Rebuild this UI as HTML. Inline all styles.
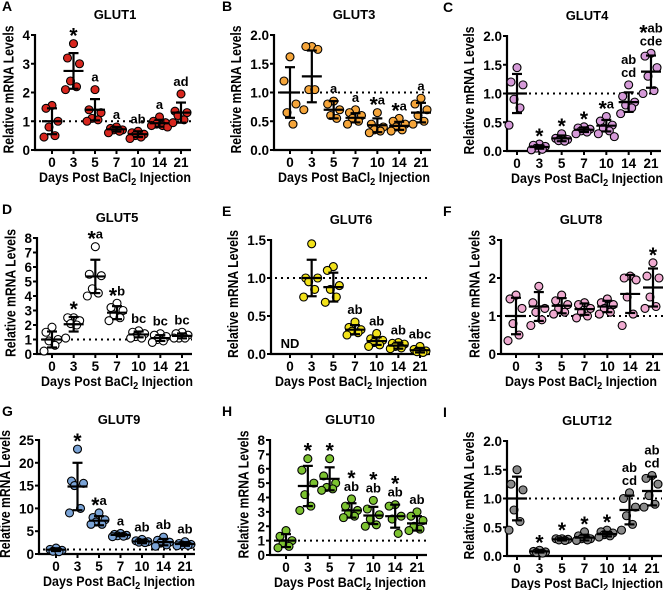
<!DOCTYPE html>
<html><head><meta charset="utf-8">
<style>
html,body{margin:0;padding:0;background:#fff;}
svg{display:block;font-family:"Liberation Sans",Arial,sans-serif;font-weight:bold;}
</style></head>
<body>
<svg id="fig" width="669" height="590" viewBox="0 0 669 590"></svg>
<script>
const days = ["0","3","5","7","10","14","21"];
// Panel data: points per day, means, SDs, annotations
const glut1Points = [[1.55,1.45,1.0,0.8,0.5,0.45],[3.7,3.2,3.0,2.4,2.2,2.1],[2.1,1.4,1.3,1.1,1.05,1.0],[0.8,0.75,0.7,0.7,0.65,0.6],[0.65,0.6,0.55,0.5,0.45,0.4],[1.15,1.0,0.95,0.9,0.85,0.85,0.8],[1.95,1.35,1.3,1.2,1.05,0.95]];
const glut1Mean = [1.0,2.75,1.4,0.72,0.55,0.93,1.3];
const glut1Sd = [0.45,0.62,0.37,0.08,0.1,0.12,0.35];
const glut1Ann = ["","*","a","a","ab","a","ad"];

const glut3Points = [[1.62,1.2,0.8,0.65,0.45],[1.8,1.8,1.75,1.05,1.05,0.7],[0.85,0.8,0.7,0.6,0.55],[0.7,0.65,0.6,0.55,0.5,0.45],[0.65,0.45,0.4,0.35,0.33,0.3],[0.55,0.5,0.45,0.4,0.35,0.33],[0.9,0.8,0.7,0.6,0.5,0.45]];
const glut3Mean = [1.0,1.28,0.7,0.56,0.43,0.42,0.65];
const glut3Sd = [0.44,0.45,0.15,0.08,0.12,0.07,0.17];
const glut3Ann = ["","","a","a","*a","*a","a"];

const glut4Points = [[1.45,1.2,1.15,0.9,0.75,0.45],[0.12,0.1,0.08,0.05,0.03,0.02],[0.3,0.22,0.2,0.18,0.17],[0.42,0.4,0.38,0.35,0.33,0.3],[0.6,0.52,0.45,0.4,0.35,0.3,0.25],[1.15,0.95,0.85,0.8,0.75,0.65],[1.7,1.65,1.45,1.3,1.05,1.0]];
const glut4Mean = [1.0,0.07,0.22,0.37,0.44,0.85,1.38];
const glut4Sd = [0.34,0.03,0.05,0.04,0.1,0.17,0.28];
const glut4Ann = ["","*","*","*","*a","ab|cd","*ab|cde"];

const glut5Points = [[1.85,1.5,1.0,0.9,0.6,0.2],[2.5,2.5,2.3,2.1,2.0,1.1],[7.4,5.5,5.4,4.5,4.2,4.0],[3.5,3.2,3.0,2.7,2.5,2.3],[1.6,1.5,1.4,1.2,1.1,1.1],[1.4,1.3,1.2,1.0,0.9,0.8],[1.5,1.4,1.3,1.1,1.1,1.1]];
const glut5Mean = [1.0,2.05,5.35,2.85,1.35,1.1,1.25];
const glut5Sd = [0.55,0.5,1.15,0.45,0.2,0.2,0.17];
const glut5Ann = ["","*","*a","*b","bc","bc","bc"];

const glut6Points = [[],[1.45,1.0,1.0,0.95,0.85,0.75],[1.15,1.1,0.9,0.85,0.75,0.68],[0.42,0.35,0.32,0.3,0.28,0.25],[0.27,0.2,0.18,0.15,0.12,0.1],[0.15,0.14,0.13,0.1,0.08,0.07],[0.1,0.06,0.04,0.03,0.02]];
const glut6Mean = [null,1.0,0.88,0.32,0.17,0.11,0.05];
const glut6Sd = [null,0.24,0.19,0.06,0.05,0.04,0.03];
const glut6Ann = ["","","","ab","ab","ab","abc"];

const glut8Points = [[1.55,1.45,1.2,0.8,0.5,0.35],[1.78,1.35,1.2,1.1,0.9,0.75],[1.55,1.4,1.3,1.2,1.1,1.05],[1.35,1.3,1.2,1.1,1.0,0.95],[1.45,1.35,1.3,1.2,1.1,1.05],[2.05,2.0,1.95,1.5,1.05,0.75],[2.4,2.05,2.0,1.5,1.25,1.2]];
const glut8Mean = [1.0,1.25,1.27,1.18,1.25,1.58,1.75];
const glut8Sd = [0.48,0.38,0.2,0.15,0.15,0.5,0.5];
const glut8Ann = ["","","","","","","*"];

const glut9Points = [[1.3,1.0,0.8,0.6,0.5],[23,16,15.5,15,10,9],[9,8,7.5,7,6.5,6.5],[4.5,4.3,4.1,4.0,3.9,3.8],[3.2,2.9,2.7,2.6,2.5],[3.7,3.0,2.6,2.4,2.0,1.7],[2.7,2.3,2.1,2.0,1.9,1.8]];
const glut9Mean = [0.95,14.8,7.3,4.2,2.75,2.6,2.2];
const glut9Sd = [0.3,5.2,1.0,0.3,0.4,0.7,0.4];
const glut9Ann = ["","*","*a","a","ab","ab","ab"];

const glut10Points = [[1.7,1.3,1.0,0.8,0.6,0.5],[6.7,5.9,5.0,4.2,3.4,3.1],[6.7,5.5,5.0,4.7,4.6,4.5],[3.9,3.4,3.1,2.9,2.7,2.6],[3.8,3.2,2.8,2.5,2.1,2.0],[3.5,3.4,2.7,2.5,1.5],[3.0,2.7,2.4,2.0,1.8,1.7]];
const glut10Mean = [1.0,4.8,5.3,3.1,2.75,2.7,2.2];
const glut10Sd = [0.45,1.4,0.8,0.5,0.6,0.8,0.5];
const glut10Ann = ["","*","*","*|ab","*|ab","*|ab","ab"];

const glut12Points = [[1.5,1.25,1.15,0.8,0.6,0.45],[0.1,0.08,0.07,0.06,0.05],[0.3,0.3,0.29,0.28,0.27],[0.42,0.35,0.3,0.3,0.28,0.27],[0.45,0.42,0.4,0.37,0.35,0.33],[1.1,1.0,0.85,0.7,0.55,0.45],[1.4,1.35,1.25,1.05,0.9,0.85]];
const glut12Mean = [1.0,0.08,0.29,0.32,0.38,0.8,1.13];
const glut12Sd = [0.38,0.02,0.02,0.05,0.04,0.25,0.25];
const glut12Ann = ["","*","*","*","*","ab|cd","ab|cd"];

const yTicksA = ["0","1","2","3","4"];
const yTicksHalf = ["0.0","0.5","1.0","1.5","2.0"];
const yTicks15 = ["0.0","0.5","1.0","1.5"];
const yTicks8 = ["0","1","2","3","4","5","6","7","8"];
const yTicks3 = ["0","1","2","3"];
const yTicks25 = ["0","5","10","15","20","25"];

const panels = [
 {id:"a",letter:"A",title:"GLUT1",pts:glut1Points,mean:glut1Mean,sd:glut1Sd,ann:glut1Ann,ticks:yTicksA,color:"#d7261e",ax:35,top:35,zero:150,c0:52,c6:181,lx:2},
 {id:"b",letter:"B",title:"GLUT3",pts:glut3Points,mean:glut3Mean,sd:glut3Sd,ann:glut3Ann,ticks:yTicksHalf,color:"#f5a53a",ax:274,top:35,zero:150,c0:290,c6:421,lx:222},
 {id:"c",letter:"C",title:"GLUT4",pts:glut4Points,mean:glut4Mean,sd:glut4Sd,ann:glut4Ann,ticks:yTicksHalf,color:"#d59ad8",ax:507,top:36,zero:151,c0:517,c6:651,lx:443},
 {id:"d",letter:"D",title:"GLUT5",pts:glut5Points,mean:glut5Mean,sd:glut5Sd,ann:glut5Ann,ticks:yTicks8,color:"#ffffff",ax:37,top:238,zero:354,c0:52,c6:182,lx:2},
 {id:"e",letter:"E",title:"GLUT6",pts:glut6Points,mean:glut6Mean,sd:glut6Sd,ann:glut6Ann,ticks:yTicks15,color:"#f2e21a",ax:271,top:240,zero:354,c0:290,c6:420,lx:222,nd:true},
 {id:"f",letter:"F",title:"GLUT8",pts:glut8Points,mean:glut8Mean,sd:glut8Sd,ann:glut8Ann,ticks:yTicks3,color:"#efaad0",ax:501,top:240,zero:354,c0:516,c6:653,lx:443},
 {id:"g",letter:"G",title:"GLUT9",pts:glut9Points,mean:glut9Mean,sd:glut9Sd,ann:glut9Ann,ticks:yTicks25,color:"#7aa3d6",ax:39,top:440,zero:554,c0:56,c6:185,lx:2},
 {id:"h",letter:"H",title:"GLUT10",pts:glut10Points,mean:glut10Mean,sd:glut10Sd,ann:glut10Ann,ticks:yTicks8,color:"#7cc230",ax:270,top:440,zero:555,c0:286,c6:417,lx:222},
 {id:"i",letter:"I",title:"GLUT12",pts:glut12Points,mean:glut12Mean,sd:glut12Sd,ann:glut12Ann,ticks:yTicksHalf,color:"#8a8a8a",ax:507,top:441,zero:556,c0:517,c6:652,lx:443}
];

const NS = "http://www.w3.org/2000/svg";
const svg = document.getElementById("fig");
const jitter = [0,-6,6,-3,3,-8,8];
function mk(tag, attrs, parent, text){
  const e = document.createElementNS(NS, tag);
  for (const k in attrs) e.setAttribute(k, attrs[k]);
  if (text !== undefined) e.textContent = text;
  parent.appendChild(e);
  return e;
}
panels.forEach(p => {
  const g = mk("g", {}, svg);
  
  
  const ymax = parseFloat(p.ticks[p.ticks.length-1]);
  const y = v => p.zero - (v / ymax) * (p.zero - p.top);
  const x = i => p.c0 + i * (p.c6 - p.c0) / 6;
  const xEnd = p.c6 + 10;
  const letter = mk("text", {x:p.lx, y:p.top-24, "font-size":14}, g, p.letter);
  
  
  const title = mk("text", {x:p.ax+80, y:p.top-16, "font-size":13, "text-anchor":"middle"}, g, p.title);
  
  
  const yaxis = mk("line", {x1:p.ax, y1:p.top-1, x2:p.ax, y2:p.zero+1, stroke:"#000","stroke-width":2.2}, g);
  
  
  const xaxis = mk("line", {x1:p.ax-1, y1:p.zero, x2:xEnd, y2:p.zero, stroke:"#000","stroke-width":2.2}, g);
  
  
  let maxW = 0;
  p.ticks.forEach(t => {
    const v = parseFloat(t);
    mk("line", {x1:p.ax-4, y1:y(v), x2:p.ax, y2:y(v), stroke:"#000","stroke-width":2}, g);
    const tl = mk("text", {x:p.ax-5, y:y(v)+5, "font-size":13.5, "text-anchor":"end"}, g, t);
    
    
    maxW = Math.max(maxW, tl.getComputedTextLength());
  });
  days.forEach((d,i) => {
    mk("line", {x1:x(i), y1:p.zero, x2:x(i), y2:p.zero+4, stroke:"#000","stroke-width":2}, g);
    const tl = mk("text", {x:x(i), y:p.zero+17, "font-size":13.5, "text-anchor":"middle"}, g, d);
    
    
  });
  const xt = mk("text", {x:p.ax+80, y:p.zero+32, "font-size":13.6, "text-anchor":"middle", textLength:152, lengthAdjust:"spacingAndGlyphs"}, g);
  
  
  xt.appendChild(document.createTextNode("Days Post BaCl"));
  mk("tspan", {"font-size":10, dy:3}, xt, "2");
  mk("tspan", {dy:-3}, xt, " Injection");
  const ytY = (p.top+p.zero)/2 - 3;
  const ytX = p.ax - 5 - maxW - 9;
  const yt = mk("text", {x:0, y:0, "font-size":14.5, "text-anchor":"middle", textLength:128, lengthAdjust:"spacingAndGlyphs", transform:`translate(${ytX},${ytY}) rotate(-90)`}, g, "Relative mRNA Levels");
  
  
  const ref = mk("line", {x1:p.ax+4, y1:y(1), x2:xEnd, y2:y(1), stroke:"#000","stroke-width":2,"stroke-dasharray":"2,4"}, g);
  
  
  if (p.nd) {
    const nd = mk("text", {x:x(0), y:p.zero-6, "font-size":13, "text-anchor":"middle"}, g, "ND");
    
    
  }
  p.pts.forEach((arr,i) => {
    arr.forEach((v,j) => {
      const c = mk("circle", {cx:x(i)+jitter[j%jitter.length], cy:y(v), r:4, fill:p.color, stroke:"#000","stroke-width":1.1}, g);
      
      
    });
  });
  p.mean.forEach((m,i) => {
    if (m === null) return;
    const s = p.sd[i], cx = x(i);
    const eb = mk("g", {stroke:"#000","stroke-width":2.2}, g);
    
    
    mk("line", {x1:cx, y1:y(m+s), x2:cx, y2:y(Math.max(0,m-s))}, eb);
    mk("line", {x1:cx-10, y1:y(m), x2:cx+10, y2:y(m)}, eb);
    mk("line", {x1:cx-5, y1:y(m+s), x2:cx+5, y2:y(m+s)}, eb);
    mk("line", {x1:cx-5, y1:y(Math.max(0,m-s)), x2:cx+5, y2:y(Math.max(0,m-s))}, eb);
  });
  p.ann.forEach((a,i) => {
    if (!a) return;
    const arr = p.pts[i];
    const hi = Math.max(...arr, (p.mean[i]||0)+(p.sd[i]||0));
    const lines = a.split("|");
    let base = y(hi) - 8;
    for (let k = lines.length-1; k >= 0; k--) {
      const L = lines[k];
      const t = mk("text", {x:x(i), y:base, "font-size":13, "text-anchor":"middle"}, g);
      
      
      if (L[0] === "*") {
        mk("tspan", {"font-size":21, dy:7}, t, "*");
        if (L.length > 1) mk("tspan", {dy:-7}, t, L.slice(1));
      } else {
        t.textContent = L;
      }
      base -= (L[0]==="*" ? 14 : 13);
    }
  });
});
</script>
</body></html>
